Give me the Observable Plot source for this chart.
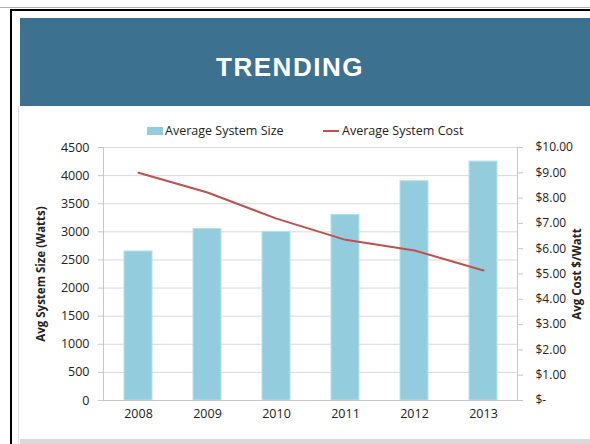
<!DOCTYPE html>
<html>
<head>
<meta charset="utf-8">
<script src="https://cdn.jsdelivr.net/npm/d3@7"></script>
<script src="https://cdn.jsdelivr.net/npm/@observablehq/plot@0.6"></script>
<style>
  body { margin: 0; background: #fff; }
  #page { position: relative; width: 590px; height: 444px; overflow: hidden; background: #fff; font-family: "Open Sans", sans-serif; }
  .abs { position: absolute; }
</style>
</head>
<body>
<div id="page">
  <div class="abs" style="left:0;top:7px;width:590px;height:1px;background:#b0b0b0"></div>
  <div class="abs" style="left:10px;top:9px;width:600px;height:460px;border-left:2px solid #000;border-top:2px solid #000;box-sizing:border-box"></div>
  <div class="abs" style="left:20px;top:18px;width:580px;height:88px;background:#3d7190"></div>
  <div class="abs" style="left:0;top:49px;width:580px;text-align:center;color:#fff;font-family:'Liberation Sans',Arial,sans-serif;font-weight:bold;font-size:26px;letter-spacing:1.5px;line-height:36px">TRENDING</div>
  <div class="abs" style="left:18px;top:106px;width:1px;height:338px;background:#e0e0e0"></div>
  <div class="abs" style="left:20px;top:439px;width:580px;height:6px;background:#d9d9d9"></div>
  <div id="legend" class="abs" style="left:0;top:122px;width:590px;height:18px;font-size:12.5px;color:#222;line-height:18px">
    <div class="abs" style="left:147px;top:5px;width:16px;height:8px;background:#93cddd"></div>
    <div class="abs" style="left:165px;top:0">Average System Size</div>
    <div class="abs" style="left:323px;top:8px;width:16px;height:2px;background:#c0504d"></div>
    <div class="abs" style="left:342px;top:0">Average System Cost</div>
  </div>
  <div id="chart" class="abs" style="left:0;top:120px"></div>
</div>
<script>
const years = ["2008", "2009", "2010", "2011", "2012", "2013"];
const sizes = [2650, 3050, 3000, 3300, 3900, 4250];
const costs = [9.00, 8.22, 7.19, 6.35, 5.93, 5.14];
const sizeTicks = [0, 500, 1000, 1500, 2000, 2500, 3000, 3500, 4000, 4500];
const costTicks = [0, 1, 2, 3, 4, 5, 6, 7, 8, 9, 10];
const costTickLabels = ["$-", "$1.00", "$2.00", "$3.00", "$4.00", "$5.00", "$6.00", "$7.00", "$8.00", "$9.00", "$10.00"];
const leftTitle = "Avg System Size (Watts)";
const rightTitle = "Avg Cost $/Watt";

const costToSize = 450; // $10.00 aligns with 4500 W
const rows = years.map((y, i) => ({year: y, size: sizes[i], cost: costs[i]}));

const chart = Plot.plot({
  width: 590,
  height: 320,
  marginTop: 27,
  marginBottom: 40,
  marginLeft: 103,
  marginRight: 73,
  style: {fontFamily: "'Open Sans', sans-serif", fontSize: "12.5px", color: "#222", background: "transparent"},
  x: {domain: years, paddingInner: 0.6, paddingOuter: 0.3, label: null},
  y: {domain: [0, 4500], label: null},
  marks: [
    Plot.ruleY(sizeTicks, {stroke: "#d9d9d9"}),
    Plot.barY(rows, {x: "year", y: "size", fill: "#93cddd", stroke: "#b7e0ea", strokeWidth: 1}),
    Plot.line(rows, {x: "year", y: d => d.cost * costToSize, stroke: "#c0504d", strokeWidth: 2}),
    Plot.frame({anchor: "left", stroke: "#c8c8c8"}),
    Plot.frame({anchor: "right", stroke: "#c8c8c8"}),
    Plot.frame({anchor: "bottom", stroke: "#c8c8c8"}),
    Plot.axisY({anchor: "left", ticks: sizeTicks, tickSize: 5, tickPadding: 9, stroke: "#c8c8c8", fill: "#222", label: null,
      tickFormat: d => String(d)}),
    Plot.axisY({anchor: "right", ticks: costTicks.map(c => c * costToSize), tickSize: 5, tickPadding: 13, stroke: "#c8c8c8", fill: "#222", label: null,
      fontSize: 12, tickFormat: d => costTickLabels[Math.round(d / costToSize)]}),
    Plot.axisX({tickSize: 0, tickPadding: 9, fill: "#222", label: null}),
    Plot.text([leftTitle], {frameAnchor: "left", textAnchor: "middle", dx: -62, rotate: -90, fontWeight: "bold", fontSize: 11.5, fill: "#222"}),
    Plot.text([rightTitle], {frameAnchor: "right", textAnchor: "middle", dx: 60, rotate: -90, fontWeight: "bold", fontSize: 11.5, fill: "#222"})
  ]
});
document.getElementById("chart").appendChild(chart);
</script>
</body>
</html>
